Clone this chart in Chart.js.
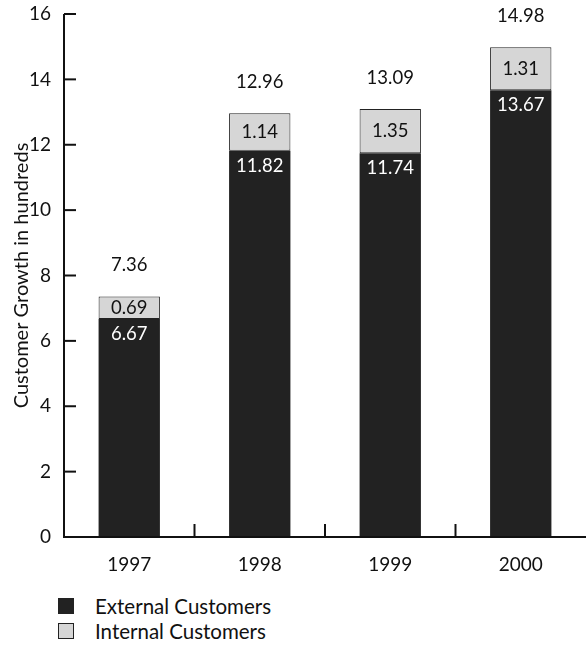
<!DOCTYPE html>
<html>
<head>
<meta charset="utf-8">
<script src="https://cdn.jsdelivr.net/npm/chart.js@4"></script>
<style>
  body { margin: 0; background: #fff; font-family: Lato, sans-serif; }
  #wrap { width: 587px; height: 575px; position: relative; }
  #legend { margin: 18px 0 0 58px; font-size: 20.5px; color: #111; }
  #legend div { display: flex; align-items: center; height: 25px; }
  #legend span.box { width: 16px; height: 16px; border: 1px solid #222; margin-right: 21px; box-sizing: border-box; }
</style>
</head>
<body>
<div id="wrap"><canvas id="myChart"></canvas></div>
<div id="legend"></div>
<script>
var years = ['1997', '1998', '1999', '2000'];
var external = [6.67, 11.82, 11.74, 13.67];
var internal = [0.69, 1.14, 1.35, 1.31];
var totals = [7.36, 12.96, 13.09, 14.98];
var yTicks = [0, 2, 4, 6, 8, 10, 12, 14, 16];

var FONT = 'Lato, sans-serif';

// axes, ticks pointing inward, and value labels
var drawExtras = {
  id: 'drawExtras',
  afterDatasetsDraw: function(chart) {
    var ctx = chart.ctx;
    var x = chart.scales.x, y = chart.scales.y;
    var area = chart.chartArea;
    ctx.save();
    ctx.strokeStyle = '#111';
    ctx.lineWidth = 2;
    ctx.beginPath();
    ctx.moveTo(area.left, y.getPixelForValue(16));
    ctx.lineTo(area.left, area.bottom);
    ctx.lineTo(area.right, area.bottom);
    ctx.stroke();
    yTicks.forEach(function(v) {
      var py = y.getPixelForValue(v);
      ctx.beginPath();
      ctx.moveTo(area.left, py);
      ctx.lineTo(area.left + 12, py);
      ctx.stroke();
    });
    for (var i = 1; i < years.length; i++) {
      var px = (x.getPixelForValue(i - 1) + x.getPixelForValue(i)) / 2;
      ctx.beginPath();
      ctx.moveTo(px, area.bottom);
      ctx.lineTo(px, area.bottom - 13);
      ctx.stroke();
    }

    ctx.font = '18.5px ' + FONT;
    ctx.textAlign = 'center';
    ctx.textBaseline = 'middle';
    var m0 = chart.getDatasetMeta(0), m1 = chart.getDatasetMeta(1);
    years.forEach(function(_, i) {
      var b0 = m0.data[i], b1 = m1.data[i];
      ctx.fillStyle = '#fff';
      ctx.fillText(external[i].toFixed(2), b0.x, b0.y + 15);
      ctx.fillStyle = '#111';
      ctx.fillText(internal[i].toFixed(2), b1.x, (b1.y + b1.base) / 2);
      ctx.fillText(totals[i].toFixed(2), b1.x, y.getPixelForValue(totals[i]) - 31);
    });
    ctx.restore();
  }
};

var ctx = document.getElementById('myChart').getContext('2d');
var chart = new Chart(ctx, {
  type: 'bar',
  data: {
    labels: years,
    datasets: [
      {
        label: 'External Customers',
        data: external,
        backgroundColor: '#222222',
        borderColor: '#222222',
        borderWidth: 0,
        categoryPercentage: 1,
        barPercentage: 0.47
      },
      {
        label: 'Internal Customers',
        data: internal,
        backgroundColor: '#d6d6d6',
        borderColor: '#222222',
        borderWidth: 1,
        borderSkipped: false,
        categoryPercentage: 1,
        barPercentage: 0.47
      }
    ]
  },
  options: {
    responsive: true,
    maintainAspectRatio: false,
    animation: false,
    layout: { padding: { top: 14, right: 1 } },
    plugins: {
      legend: { display: false },
      tooltip: { enabled: false }
    },
    scales: {
      x: {
        stacked: true,
        grid: { display: false, drawTicks: false },
        border: { display: false },
        ticks: { color: '#111', font: { family: FONT, size: 19 }, padding: 16 },
        afterFit: function(s) { s.height = 38; s.paddingLeft = 0; s.paddingRight = 0; }
      },
      y: {
        stacked: true,
        min: 0,
        max: 16,
        afterBuildTicks: function(s) { s.ticks = yTicks.map(function(v) { return { value: v }; }); },
        grid: { display: false, drawTicks: false },
        border: { display: false },
        ticks: { color: '#111', font: { family: FONT, size: 19 }, padding: 13 },
        title: { display: true, text: 'Customer Growth in hundreds', color: '#111', font: { family: FONT, size: 20 }, padding: { top: 10, bottom: 0 } },
        afterFit: function(s) { s.width = 64; s.paddingTop = 0; s.paddingBottom = 0; }
      }
    }
  },
  plugins: [drawExtras]
});

var legend = document.getElementById('legend');
chart.data.datasets.forEach(function(ds) {
  var row = document.createElement('div');
  var box = document.createElement('span');
  box.className = 'box';
  box.style.background = ds.backgroundColor;
  row.appendChild(box);
  row.appendChild(document.createTextNode(ds.label));
  legend.appendChild(row);
});
</script>
</body>
</html>
